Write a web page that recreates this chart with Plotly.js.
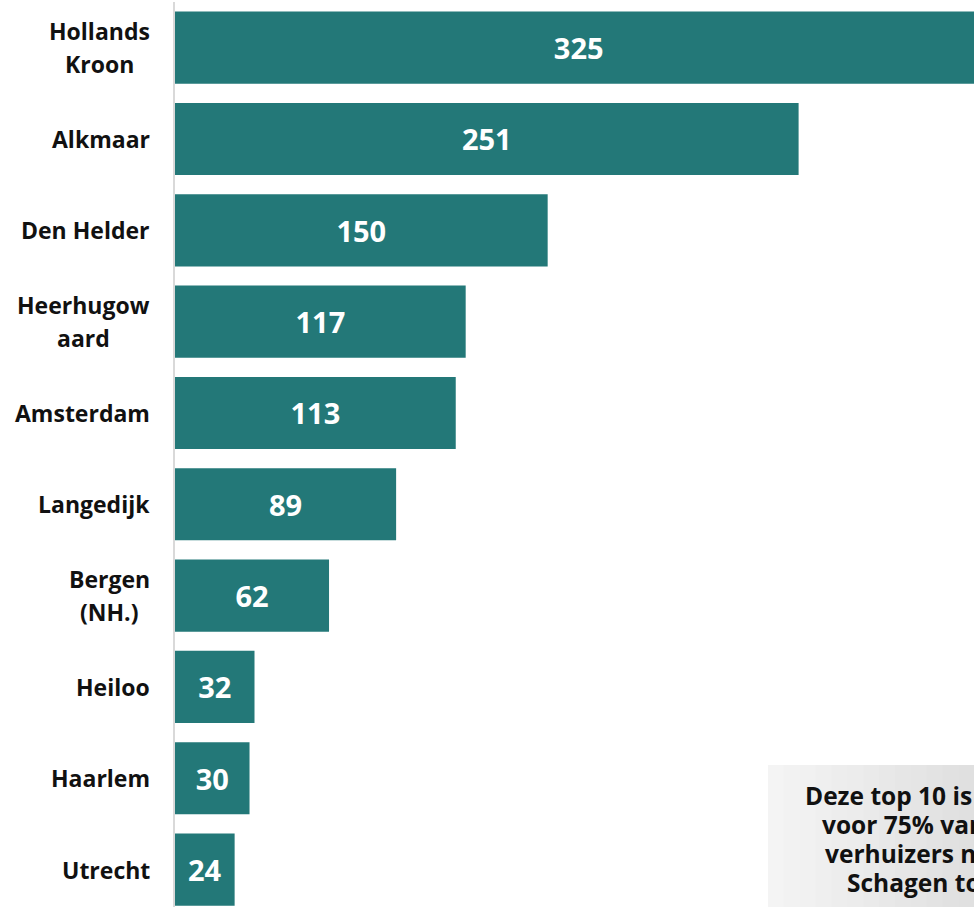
<!DOCTYPE html>
<html>
<head>
<meta charset="utf-8">
<script src="https://cdn.plot.ly/plotly-3.0.1.min.js"></script>
<style>html,body{margin:0;padding:0;background:#fff;}#chart{width:974px;height:907px;}</style>
</head>
<body>
<div id="chart"></div>
<script>
// Data
const categories = ["Hollands Kroon", "Alkmaar", "Den Helder", "Heerhugowaard", "Amsterdam", "Langedijk", "Bergen (NH.)", "Heiloo", "Haarlem", "Utrecht"];
const labelLines = [["Hollands", "Kroon"], ["Alkmaar"], ["Den Helder"], ["Heerhugow", "aard"], ["Amsterdam"], ["Langedijk"], ["Bergen", "(NH.)"], ["Heiloo"], ["Haarlem"], ["Utrecht"]];
const values = [325, 251, 150, 117, 113, 89, 62, 32, 30, 24];
const noteLines = ["Deze top 10 is goed", "voor 75% van de", "verhuizers naar", "Schagen toe"];

const barColor = "#237878";
const fontName = "Open Sans";
const font = "'Open Sans', 'DejaVu Sans', sans-serif";
const labelSize = 23;
const noteSize = 24.5;

function draw() {
  const ctx = document.createElement("canvas").getContext("2d");
  ctx.font = `bold ${labelSize}px '${fontName}'`;

  const trace = {
    type: "bar",
    orientation: "h",
    y: categories,
    x: values,
    marker: { color: barColor },
    text: values.map(String),
    textposition: "inside",
    insidetextanchor: "middle",
    textangle: 0,
    constraintext: "none",
    insidetextfont: { family: font, size: 29, color: "#ffffff", weight: 700 },
    hoverinfo: "none",
    cliponaxis: true
  };

  const annotations = [];
  const lineGap = 33;
  const rightEdge = -25; // px left of plot area
  categories.forEach((cat, i) => {
    const lines = labelLines[i];
    const n = lines.length;
    const maxW = Math.max(...lines.map(l => ctx.measureText(l).width));
    lines.forEach((ln, j) => {
      annotations.push({
        xref: "paper", yref: "y",
        x: 0, y: cat,
        xanchor: "center", yanchor: "middle",
        xshift: rightEdge - maxW / 2,
        yshift: ((n - 1) / 2 - j) * lineGap,
        text: "<b>" + ln + "</b>",
        showarrow: false,
        font: { family: font, size: labelSize, color: "#111111" }
      });
    });
  });

  // note box text, one annotation per line
  const noteCenterX = 921, noteCenterY = 838.5, noteGap = 29;
  const m = noteLines.length;
  noteLines.forEach((ln, j) => {
    const py = noteCenterY + (j - (m - 1) / 2) * noteGap;
    annotations.push({
      xref: "paper", yref: "paper",
      x: (noteCenterX - 175) / 799, y: (907 - py) / 905,
      xanchor: "center", yanchor: "middle",
      text: "<b>" + ln + "</b>",
      showarrow: false,
      font: { family: font, size: noteSize, color: "#111111" }
    });
  });

  // gradient-ish box behind note
  const shapes = [];
  const bx0 = 768, bx1 = 990, steps = 14;
  for (let k = 0; k < steps; k++) {
    const t = k / (steps - 1);
    const c = Math.round(244 - t * 22);
    shapes.push({
      type: "rect", layer: "below",
      xref: "paper", yref: "paper",
      x0: (bx0 + (bx1 - bx0) * k / steps - 175) / 799,
      x1: (bx0 + (bx1 - bx0) * (k + 1) / steps - 175) / 799 + 0.001,
      y0: (907 - 765) / 905, y1: -0.05,
      fillcolor: `rgb(${c},${c},${c})`,
      line: { width: 0 }
    });
  }

  const layout = {
    width: 974, height: 907,
    margin: { l: 175, r: 0, t: 2, b: 0 },
    paper_bgcolor: "#ffffff",
    plot_bgcolor: "rgba(0,0,0,0)",
    showlegend: false,
    bargap: 0.21,
    xaxis: { range: [0, 321.6], visible: false, showgrid: false, zeroline: false, fixedrange: true },
    yaxis: {
      type: "category",
      categoryorder: "array", categoryarray: categories,
      range: [9.41, -0.5],
      showticklabels: false, ticks: "",
      showgrid: false, zeroline: false,
      showline: true, linecolor: "#d9d9d9", linewidth: 2,
      fixedrange: true
    },
    annotations: annotations,
    shapes: shapes,
    font: { family: font }
  };

  Plotly.newPlot("chart", [trace], layout, { displayModeBar: false, staticPlot: true });
}

if (document.fonts && document.fonts.load) {
  document.fonts.load(`bold ${labelSize}px '${fontName}'`).then(draw, draw);
} else {
  draw();
}
</script>
</body>
</html>
